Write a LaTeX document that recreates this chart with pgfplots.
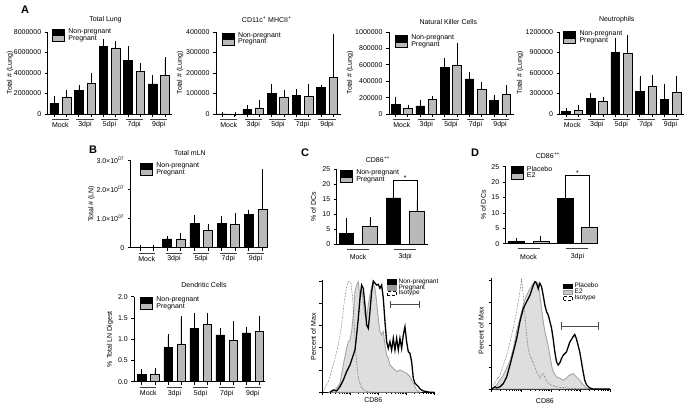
\documentclass[border=0pt]{standalone}
\usepackage{pgfplots}
\pgfplotsset{compat=1.18}
\usepackage{fontspec}
\setmainfont{Liberation Sans}
\newcommand{\fs}{\fontsize{7}{8}\selectfont}
\newcommand{\hfs}{\fontsize{6.5}{7}\selectfont}
\definecolor{gbar}{RGB}{185,185,185}
\definecolor{hfill}{RGB}{222,222,222}
\definecolor{hline}{RGB}{165,165,165}
\definecolor{e2box}{RGB}{200,200,200}
\newcommand{\grp}[6]{\draw[line width=1pt,black!75] ([yshift=-#5pt]axis cs:#1,0) -- ([yshift=-#5pt]axis cs:#2,0); \node[font=\fs,inner sep=0pt] at ([yshift=-#6pt]axis cs:#3,0) {#4};}
\pgfplotsset{
  barax/.style={scale only axis, anchor=south west, axis lines=left, axis line style={-, line width=0.8pt},
    tick align=outside, major tick length=3pt, tick style={line width=0.7pt, black}, ymin=0, clip=false,
    font=\fs, tick label style={font=\fs}, label style={font=\fs}, scaled y ticks=false, xticklabels={},
    ylabel style={anchor=center},
    legend style={draw=none, fill=none, inner sep=0pt, anchor=north west, font=\fs, row sep=-1pt, nodes={inner sep=0.6pt}},
    legend cell align=left},
  histax/.style={scale only axis, anchor=south west, axis lines=left, axis line style={-, line width=0.8pt},
    tick align=outside, major tick length=3pt, minor tick length=1.6pt, tick style={line width=0.6pt, black},
    ymin=0, xticklabels={}, yticklabels={}, ytick={0,20,40,60,80,100}, clip=false,
    font=\fs, label style={font=\fs}, ylabel style={anchor=center}, xlabel style={anchor=center},
    legend style={draw=none, fill=none, inner sep=0pt, anchor=north west, font=\hfs, row sep=-0.8pt, nodes={inner sep=0.3pt}},
    legend cell align=left},
  np/.style={ybar, bar shift=0pt, fill=black, draw=black, line width=0.5pt,
    legend image code/.code={\draw[fill=black,draw=black,line width=0.5pt] (0pt,-2.8pt) rectangle (12pt,2.8pt); \path (15pt,0pt);}},
  pg/.style={ybar, bar shift=0pt, fill=gbar, draw=black, line width=0.5pt,
    legend image code/.code={\draw[fill=gbar,draw=black,line width=0.5pt] (0pt,-2.8pt) rectangle (12pt,2.8pt); \path (15pt,0pt);}},
  errb/.style={error bars/.cd, y dir=plus, y explicit, error bar style={line width=0.6pt, black},
    error mark options={line width=0.6pt, black, mark size=2pt}}
}
\begin{document}
\begin{tikzpicture}[x=1pt,y=1pt]
\path[use as bounding box] (0,0) rectangle (686,406);

% ---------------- A: Total Lung
\begin{axis}[barax, at={(47.7pt,292pt)}, width=124.6pt, height=82pt, xmin=0.47, xmax=10.6, ymax=8e6,
  bar width=8.6pt, xtick={1,...,10}, ytick={0,2e6,4e6,6e6,8e6},
  yticklabels={0,2000000,4000000,6000000,8000000},
  ylabel={Total \# (Lung)}, ylabel style={at={(axis description cs:-0.303,0.5)}},
  legend style={at={(axis description cs:0.035,1.049)}}]
\addplot[np, errb] coordinates {(1,1.05e6) +- (0,0.49e6) (3,2.32e6) +- (0,0.36e6) (5,6.6e6) +- (0,0.52e6) (7,5.23e6) +- (0,1.21e6) (9,2.94e6) +- (0,0.66e6)};
\addlegendentry{Non-pregnant}
\addplot[pg, errb] coordinates {(2,1.63e6) +- (0,0.49e6) (4,3.0e6) +- (0,0.76e6) (6,6.44e6) +- (0,0.49e6) (8,4.18e6) +- (0,0.59e6) (10,3.76e6) +- (0,1.6e6)};
\addlegendentry{Pregnant}
\grp{0.8}{2.2}{1.5}{Mock}{6}{11}\grp{2.8}{4.2}{3.5}{3dpi}{6}{11}\grp{4.8}{6.2}{5.5}{5dpi}{6}{11}\grp{6.8}{8.2}{7.5}{7dpi}{6}{11}\grp{8.8}{10.2}{9.5}{9dpi}{6}{11}
\end{axis}

% ---------------- A: CD11c+ MHCII+
\begin{axis}[barax, at={(216pt,292pt)}, width=124.6pt, height=82pt, xmin=0.47, xmax=10.6, ymax=4e5,
  bar width=8.6pt, xtick={1,...,10}, ytick={0,1e5,2e5,3e5,4e5},
  yticklabels={0,100000,200000,300000,400000},
  ylabel={Total \# (Lung)}, ylabel style={at={(axis description cs:-0.289,0.5)}},
  legend style={at={(axis description cs:0.046,1.004)}}]
\addplot[np, errb] coordinates {(1,0) +- (0,0) (3,22900) +- (0,9800) (5,101000) +- (0,36000) (7,90000) +- (0,24000) (9,129000) +- (0,5000)};
\addlegendentry{Non-pregnant}
\addplot[pg, errb] coordinates {(2,0) +- (0,0) (4,29400) +- (0,27600) (6,80000) +- (0,29000) (8,86500) +- (0,50500) (10,180000) +- (0,202000)};
\addlegendentry{Pregnant}
\grp{0.8}{2.2}{1.5}{Mock}{6}{11}\grp{2.8}{4.2}{3.5}{3dpi}{6}{11}\grp{4.8}{6.2}{5.5}{5dpi}{6}{11}\grp{6.8}{8.2}{7.5}{7dpi}{6}{11}\grp{8.8}{10.2}{9.5}{9dpi}{6}{11}
\end{axis}

% ---------------- A: Natural Killer Cells
\begin{axis}[barax, at={(389pt,292pt)}, width=124.6pt, height=82pt, xmin=0.47, xmax=10.6, ymax=1e6,
  bar width=8.6pt, xtick={1,...,10}, ytick={0,2e5,4e5,6e5,8e5,1e6},
  yticklabels={0,200000,400000,600000,800000,1000000},
  ylabel={Total \# (Lung)}, ylabel style={at={(axis description cs:-0.313,0.5)}},
  legend style={at={(axis description cs:0.048,0.972)}}]
\addplot[np, errb] coordinates {(1,118000) +- (0,70000) (3,98000) +- (0,45000) (5,567000) +- (0,90000) (7,429000) +- (0,61000) (9,163000) +- (0,41000)};
\addlegendentry{Non-pregnant}
\addplot[pg, errb] coordinates {(2,69000) +- (0,17000) (4,176000) +- (0,24000) (6,596000) +- (0,249000) (8,306000) +- (0,61000) (10,237000) +- (0,90000)};
\addlegendentry{Pregnant}
\grp{0.8}{2.2}{1.5}{Mock}{6}{11}\grp{2.8}{4.2}{3.5}{3dpi}{6}{11}\grp{4.8}{6.2}{5.5}{5dpi}{6}{11}\grp{6.8}{8.2}{7.5}{7dpi}{6}{11}\grp{8.8}{10.2}{9.5}{9dpi}{6}{11}
\end{axis}

% ---------------- A: Neutrophils
\begin{axis}[barax, at={(559.5pt,292pt)}, width=124.6pt, height=82pt, xmin=0.47, xmax=10.6, ymax=1.2e6,
  bar width=8.6pt, xtick={1,...,10}, ytick={0,3e5,6e5,9e5,1.2e6},
  yticklabels={0,300000,600000,900000,1200000},
  ylabel={Total \# (Lung)}, ylabel style={at={(axis description cs:-0.317,0.5)}},
  legend style={at={(axis description cs:0.03,1.021)}}]
\addplot[np, errb] coordinates {(1,34000) +- (0,20000) (3,229000) +- (0,54000) (5,907000) +- (0,176000) (7,332000) +- (0,195000) (9,215000) +- (0,200000)};
\addlegendentry{Non-pregnant}
\addplot[pg, errb] coordinates {(2,54000) +- (0,48000) (4,185000) +- (0,30000) (6,883000) +- (0,244000) (8,405000) +- (0,141000) (10,317000) +- (0,210000)};
\addlegendentry{Pregnant}
\grp{0.8}{2.2}{1.5}{Mock}{6}{11}\grp{2.8}{4.2}{3.5}{3dpi}{6}{11}\grp{4.8}{6.2}{5.5}{5dpi}{6}{11}\grp{6.8}{8.2}{7.5}{7dpi}{6}{11}\grp{8.8}{10.2}{9.5}{9dpi}{6}{11}
\end{axis}

% ---------------- B: Total mLN
\begin{axis}[barax, at={(130.7pt,158.3pt)}, width=137.1pt, height=87.7pt, xmin=0.32, xmax=10.4, ymax=3e7,
  bar width=9pt, xtick={1,...,10}, ytick={0,1e7,2e7,3e7},
  yticklabels={0,{1.0×10\textsuperscript{07}},{2.0×10\textsuperscript{07}},{3.0×10\textsuperscript{07}}},
  ylabel={Total \# (LN)}, ylabel style={at={(axis description cs:-0.285,0.5)}},
  legend style={at={(axis description cs:0.068,0.977)}}]
\addplot[np, errb] coordinates {(1,2e5) +- (0,1e5) (3,3.0e6) +- (0,0.2e6) (5,8.2e6) +- (0,2.3e6) (7,8.3e6) +- (0,1.7e6) (9,11.4e6) +- (0,0.9e6)};
\addlegendentry{Non-pregnant}
\addplot[pg, errb] coordinates {(2,3e5) +- (0,1e5) (4,3.0e6) +- (0,1.3e6) (6,5.9e6) +- (0,1.5e6) (8,8.1e6) +- (0,3.0e6) (10,13.2e6) +- (0,12.9e6)};
\addlegendentry{Pregnant}
\grp{0.9}{2.1}{1.5}{Mock}{5.5}{11}\grp{2.9}{4.1}{3.5}{3dpi}{5.5}{11}\grp{4.9}{6.1}{5.5}{5dpi}{5.5}{11}\grp{6.9}{8.1}{7.5}{7dpi}{5.5}{11}\grp{8.9}{10.1}{9.5}{9dpi}{5.5}{11}
\end{axis}

% ---------------- B: Dendritic Cells
\begin{axis}[barax, at={(134.3pt,24.3pt)}, width=130.9pt, height=85pt, xmin=0.426, xmax=10.45, ymax=2,
  bar width=8.3pt, xtick={1,...,10}, ytick={0,0.5,1,1.5,2},
  yticklabels={0.0,0.5,1.0,1.5,2.0},
  ylabel={\% Total LN Digest}, ylabel style={at={(axis description cs:-0.185,0.5)}},
  legend style={at={(axis description cs:0.044,1.008)}}]
\addplot[np, errb] coordinates {(1,0.17) +- (0,0.07) (3,0.80) +- (0,0.28) (5,1.25) +- (0,0.33) (7,1.10) +- (0,0.11) (9,1.15) +- (0,0.10)};
\addlegendentry{Non-pregnant}
\addplot[pg, errb] coordinates {(2,0.17) +- (0,0.10) (4,0.89) +- (0,0.60) (6,1.35) +- (0,0.21) (8,0.97) +- (0,0.40) (10,1.18) +- (0,0.31)};
\addlegendentry{Pregnant}
\grp{0.9}{2.1}{1.5}{Mock}{6.3}{11.6}\grp{2.9}{4.1}{3.5}{3dpi}{6.3}{11.6}\grp{4.9}{6.1}{5.5}{5dpi}{6.3}{11.6}\grp{6.9}{8.1}{7.5}{7dpi}{6.3}{11.6}\grp{8.9}{10.1}{9.5}{9dpi}{6.3}{11.6}
\end{axis}

% ---------------- C: CD86++ bars
\begin{axis}[barax, at={(336.7pt,162pt)}, width=91.3pt, height=74.7pt, xmin=0.59, xmax=4.47, ymax=25,
  bar width=14.5pt, xtick=\empty, ytick={0,5,10,15,20,25}, yticklabels={0,5,10,15,20,25},
  ylabel={\% of DCs}, ylabel style={at={(axis description cs:-0.256,0.5)}},
  legend style={at={(axis description cs:0.036,1.0)}}]
\addplot[np, errb] coordinates {(1,3.6) +- (0,4.3) (3,15.4) +- (0,3.6)};
\addlegendentry{Non-pregnant}
\addplot[pg, errb] coordinates {(2,5.9) +- (0,2.4) (4,11.0) +- (0,3.4)};
\addlegendentry{Pregnant}
\grp{1.03}{1.97}{1.5}{Mock}{5.3}{12.7}\grp{3.03}{3.97}{3.5}{3dpi}{5.3}{12.7}
\draw[line width=0.8pt] (axis cs:3,19.4) -- (axis cs:3,21.2) -- (axis cs:4,21.2) -- (axis cs:4,14.8);
\node[font=\fs, inner sep=0pt, anchor=base] at (axis cs:3.5,21.4) {*};
\end{axis}

% ---------------- D: CD86++ bars
\begin{axis}[barax, at={(505.7pt,162.3pt)}, width=92.3pt, height=77pt, xmin=0.566, xmax=4.34, ymax=25,
  bar width=16pt, xtick=\empty, ytick={0,5,10,15,20,25}, yticklabels={0,5,10,15,20,25},
  ylabel={\% of DCs}, ylabel style={at={(axis description cs:-0.243,0.5)}},
  legend style={at={(axis description cs:0.054,1.018)}}]
\addplot[np, errb] coordinates {(1,0.65) +- (0,0.55) (3,14.7) +- (0,5.3)};
\addlegendentry{Placebo}
\addplot[pg, errb] coordinates {(2,0.8) +- (0,1.2) (4,5.3) +- (0,3.6)};
\addlegendentry{E2}
\grp{1.05}{1.95}{1.5}{Mock}{5.3}{13}\grp{3.05}{3.95}{3.5}{3dpi}{5.3}{13}
\draw[line width=0.8pt] (axis cs:3,20.3) -- (axis cs:3,22.1) -- (axis cs:4,22.1) -- (axis cs:4,9.2);
\node[font=\fs, inner sep=0pt, anchor=base] at (axis cs:3.5,22.3) {*};
\end{axis}

% ---------------- C: histogram
\begin{axis}[histax, at={(322.3pt,13.7pt)}, width=112pt, height=112.3pt, xmin=97, xmax=433, ymax=100.9,
  xtick={97,181,265,349,433},
  minor xtick={122.3,137.1,147.6,155.7,162.4,168.0,172.9,177.1,206.3,221.1,231.6,239.7,246.4,252.0,256.9,261.1,290.3,305.1,315.6,323.7,330.4,336.0,340.9,345.1,374.3,389.1,399.6,407.7,414.4,420.0,424.9,429.1},
  xlabel={CD86}, xlabel style={at={(axis description cs:0.455,-0.069)}},
  ylabel={Percent of Max}, ylabel style={at={(axis description cs:-0.08,0.495)}},
  legend style={at={(axis description cs:0.58,1.015)}}]
\addlegendimage{legend image code/.code={\draw[fill=black,draw=black] (0pt,-2.3pt) rectangle (9pt,2.3pt); \path (10.5pt,0pt);}}
\addlegendentry{Non-pregnant}
\addlegendimage{legend image code/.code={\draw[fill=black!40,draw=black!40] (0pt,-2.3pt) rectangle (9pt,2.3pt); \path (10.5pt,0pt);}}
\addlegendentry{Pregnant}
\addlegendimage{legend image code/.code={\draw[fill=white,draw=black,densely dashed] (0pt,-2.3pt) rectangle (9pt,2.3pt); \path (10.5pt,0pt);}}
\addlegendentry{Isotype}
\addplot[forget plot, fill=hfill, draw=hline, line width=0.9pt] table[row sep=\\] {
118 0\\ 140 3.6\\ 150 8.1\\ 160 24.6\\ 170 39.5\\ 175 45.5\\ 180 47\\ 185 54.5\\ 190 69.5\\ 195 90.4\\ 200 96.4\\ 205 99.4\\ 210 84.4\\ 215 93.4\\ 220 81.4\\ 225 69.5\\ 230 66.5\\ 235 78.4\\ 240 87.4\\ 245 94.9\\ 250 97.9\\ 255 93.4\\ 260 81.4\\ 265 66.5\\ 270 54.5\\ 275 51.5\\ 280 54.5\\ 285 42.5\\ 290 33.5\\ 295 30.5\\ 300 24.6\\ 310 21.6\\ 320 18.6\\ 330 20.1\\ 340 18.6\\ 350 17.1\\ 360 14.1\\ 370 8.1\\ 380 2.1\\ 390 0\\
} \closedcycle;
\addplot[forget plot, densely dotted, line width=0.5pt, black!80] table[row sep=\\] {
97 0\\ 100 1\\ 115 9.6\\ 130 24.6\\ 145 42.5\\ 155 60.5\\ 163 81.4\\ 170 94.9\\ 176 100\\ 183 97.9\\ 188 84.4\\ 193 60.5\\ 198 33.5\\ 205 12.6\\ 215 3.6\\ 230 0.6\\ 260 0\\ 433 0\\
};
\addplot[forget plot, black, line width=1.3pt] table[row sep=\\] {
120 0\\ 130 2\\ 140 1.2\\ 150 5.1\\ 160 11\\ 170 18.6\\ 180 24.6\\ 190 33.5\\ 195 38\\ 200 51.5\\ 205 66.5\\ 210 84.4\\ 215 96.4\\ 220 93.4\\ 225 78.4\\ 230 60.5\\ 235 57.5\\ 240 72.5\\ 245 90.4\\ 250 100\\ 255 98\\ 260 96.4\\ 265 97\\ 270 93.4\\ 275 96.4\\ 280 84.4\\ 285 63.5\\ 290 45.5\\ 295 39.5\\ 300 45.5\\ 305 38\\ 310 48.5\\ 315 38\\ 320 48.5\\ 325 38\\ 330 48.5\\ 335 39.5\\ 340 51.5\\ 345 59\\ 350 45.5\\ 355 36.5\\ 360 35\\ 365 27.5\\ 370 12.6\\ 375 8.1\\ 380 6.6\\ 385 5.1\\ 390 3\\ 400 1.2\\ 410 0.6\\ 420 0\\ 433 0\\
};
\draw[|-|, line width=0.9pt, black!70] (axis cs:300,79) -- (axis cs:390,79);
\end{axis}

% ---------------- D: histogram
\begin{axis}[histax, at={(491.7pt,17pt)}, width=118.3pt, height=110.7pt, xmin=95, xmax=451, ymax=101.6,
  xtick={95,184,273,362,451},
  minor xtick={121.8,137.5,148.6,157.2,164.2,170.2,175.4,179.9,210.8,226.5,237.6,246.2,253.2,259.2,264.4,268.9,299.8,315.5,326.6,335.2,342.2,348.2,353.4,357.9,388.8,404.5,415.6,424.2,431.2,437.2,442.4,446.9},
  xlabel={CD86}, xlabel style={at={(axis description cs:0.45,-0.108)}},
  ylabel={Percent of Max}, ylabel style={at={(axis description cs:-0.09,0.527)}},
  legend style={at={(axis description cs:0.605,0.96)}}]
\addlegendimage{legend image code/.code={\draw[fill=black,draw=black] (0pt,-2.3pt) rectangle (9pt,2.3pt); \path (10.5pt,0pt);}}
\addlegendentry{Placebo}
\addlegendimage{legend image code/.code={\draw[fill=e2box,draw=black!40] (0pt,-2.3pt) rectangle (9pt,2.3pt); \path (10.5pt,0pt);}}
\addlegendentry{E2}
\addlegendimage{legend image code/.code={\draw[fill=white,draw=black,densely dashed] (0pt,-2.3pt) rectangle (9pt,2.3pt); \path (10.5pt,0pt);}}
\addlegendentry{Isotype}
\addplot[forget plot, fill=hfill, draw=hline, line width=0.9pt] table[row sep=\\] {
100 1.2\\ 110 3.7\\ 120 8.3\\ 130 12.8\\ 140 19\\ 150 26\\ 160 37\\ 170 53\\ 180 65\\ 190 77\\ 200 86\\ 210 92\\ 220 97\\ 228 98.5\\ 235 97\\ 240 86\\ 245 74\\ 250 62\\ 255 53\\ 260 46\\ 265 40\\ 270 31\\ 275 22\\ 280 16\\ 290 11\\ 300 10\\ 310 8\\ 320 10\\ 330 13\\ 340 14\\ 350 11\\ 360 8\\ 370 4\\ 380 1\\ 390 0\\
} \closedcycle;
\addplot[forget plot, densely dotted, line width=0.5pt, black!80] table[row sep=\\] {
95 4\\ 100 3.7\\ 110 8.3\\ 120 12.8\\ 130 22\\ 140 31\\ 150 43\\ 160 56\\ 170 71\\ 178 86\\ 185 100\\ 190 86\\ 195 68\\ 200 50\\ 205 37\\ 210 31\\ 220 24\\ 230 16\\ 240 10\\ 245 13\\ 250 14\\ 255 11\\ 260 7\\ 270 4\\ 290 2\\ 330 0.6\\ 360 0\\ 451 0\\
};
\addplot[forget plot, black, line width=1.3pt] table[row sep=\\] {
95 0\\ 105 2\\ 110 1\\ 120 2\\ 130 5\\ 140 11\\ 150 22\\ 160 34\\ 170 46\\ 180 62\\ 190 74\\ 200 80\\ 210 86\\ 220 95\\ 225 98.5\\ 230 97\\ 235 92\\ 240 97\\ 245 94\\ 250 86\\ 255 77\\ 260 71\\ 265 68\\ 270 62\\ 275 56\\ 280 46\\ 285 34\\ 290 25\\ 295 22\\ 300 24\\ 305 28\\ 310 31\\ 320 34\\ 330 43\\ 340 48\\ 345 50\\ 350 46\\ 355 40\\ 360 34\\ 365 25\\ 370 16\\ 375 8\\ 380 4\\ 390 1\\ 400 0\\ 451 0\\
};
\draw[|-|, line width=0.9pt, black!70] (axis cs:305,57.8) -- (axis cs:418,57.8);
\end{axis}

% ---------------- titles and panel letters
\node[font=\fs] at (105.5,386) {Total Lung};
\node[font=\fs] at (266.7,386) {CD11c\textsuperscript{+} MHCII\textsuperscript{+}};
\node[font=\fs] at (448.3,384) {Natural Killer Cells};
\node[font=\fs] at (616.7,386) {Neutrophils};
\node[font=\fs] at (190,253.3) {Total mLN};
\node[font=\fs] at (204,120.5) {Dendritic Cells};
\node[font=\fs] at (378,246.7) {CD86\textsuperscript{++}};
\node[font=\fs] at (548,250.3) {CD86\textsuperscript{++}};
\node[font=\fontsize{11}{12}\selectfont\bfseries] at (25,396) {A};
\node[font=\fontsize{11}{12}\selectfont\bfseries] at (93,256) {B};
\node[font=\fontsize{11}{12}\selectfont\bfseries] at (305,253) {C};
\node[font=\fontsize{11}{12}\selectfont\bfseries] at (475,253) {D};
\end{tikzpicture}
\end{document}
